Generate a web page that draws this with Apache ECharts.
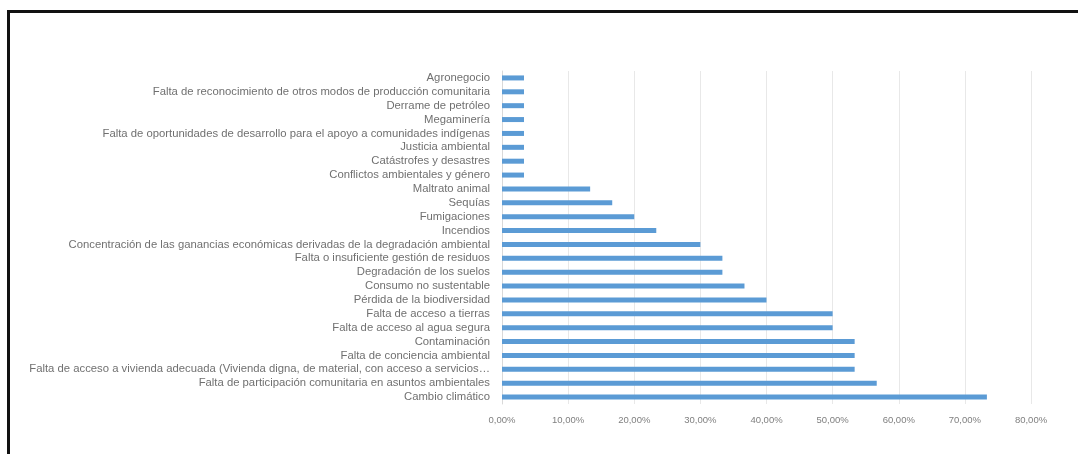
<!DOCTYPE html>
<html>
<head>
<meta charset="utf-8">
<script src="https://cdn.jsdelivr.net/npm/echarts@6/dist/echarts.min.js"></script>
<style>
html,body{margin:0;padding:0;background:#fff;}
#chart{width:1078px;height:454px;}
#frame{position:absolute;left:7px;top:10px;width:1071px;height:444px;border-top:3px solid #111;border-left:3px solid #111;box-sizing:border-box;pointer-events:none;}
</style>
</head>
<body>
<div id="chart"></div>
<div id="frame"></div>
<script>
const categories = [
  "Agronegocio",
  "Falta de reconocimiento de otros modos de producción comunitaria",
  "Derrame de petróleo",
  "Megaminería",
  "Falta de oportunidades de desarrollo para el apoyo a comunidades indígenas",
  "Justicia ambiental",
  "Catástrofes y desastres",
  "Conflictos ambientales y género",
  "Maltrato animal",
  "Sequías",
  "Fumigaciones",
  "Incendios",
  "Concentración de las ganancias económicas derivadas de la degradación ambiental",
  "Falta o insuficiente gestión de residuos",
  "Degradación de los suelos",
  "Consumo no sustentable",
  "Pérdida de la biodiversidad",
  "Falta de acceso a tierras",
  "Falta de acceso al agua segura",
  "Contaminación",
  "Falta de conciencia ambiental",
  "Falta de acceso a vivienda adecuada (Vivienda digna, de material, con acceso a servicios…",
  "Falta de participación comunitaria en asuntos ambientales",
  "Cambio climático"
];
const values = [
  3.33, 3.33, 3.33, 3.33, 3.33, 3.33, 3.33, 3.33,
  13.33, 16.67, 20.00, 23.33, 30.00, 33.33, 33.33, 36.67,
  40.00, 50.00, 50.00, 53.33, 53.33, 53.33, 56.67, 73.33
];
const xTicks = { min: 0, max: 80, interval: 10 };

const chart = echarts.init(document.getElementById('chart'), null, {renderer: 'canvas'});
chart.setOption({
  animation: false,
  grid: { left: 502, right: 47, top: 71, bottom: 50, containLabel: false },
  xAxis: {
    type: 'value',
    min: xTicks.min, max: xTicks.max, interval: xTicks.interval,
    axisLine: { show: false },
    axisTick: { show: false },
    splitLine: { show: true, lineStyle: { color: '#e8e8e8', width: 1 } },
    axisLabel: {
      color: '#7f7f7f', fontSize: 9.5, fontFamily: 'Liberation Sans', margin: 11,
      formatter: v => v.toFixed(2).replace('.', ',') + '%'
    }
  },
  yAxis: {
    type: 'category',
    data: categories,
    inverse: true,
    axisLine: { show: true, lineStyle: { color: '#d9d9d9' } },
    axisTick: { show: false },
    axisLabel: { color: '#707070', fontSize: 11.3, fontFamily: 'Liberation Sans', margin: 12, interval: 0 }
  },
  series: [{
    type: 'bar',
    data: values,
    barWidth: 5,
    itemStyle: { color: '#5b9bd5' }
  }]
});
</script>
</body>
</html>
